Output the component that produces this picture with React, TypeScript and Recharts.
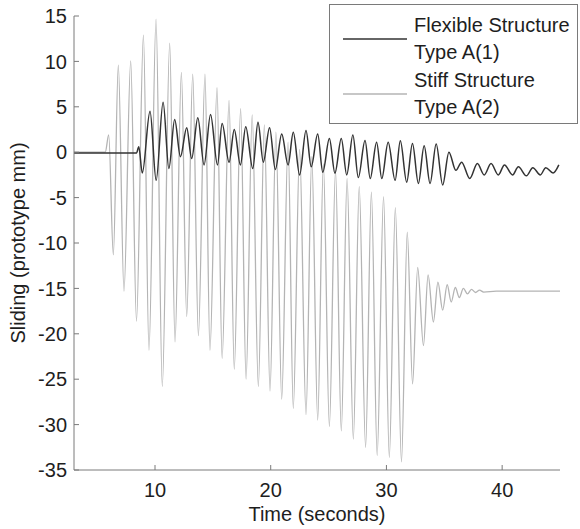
import React from 'react';
import { LineChart, Line, XAxis, YAxis, Legend } from 'recharts';

const stiffTime = [
  3, 5.7, 6.0, 6.4, 6.83, 7.32, 7.9, 8.4, 9.0, 9.48, 10.09, 10.63, 11.27, 11.73, 12.28,
  12.74, 13.26, 13.75, 14.32, 14.75, 15.36, 15.8, 16.4, 16.85, 17.4, 17.87, 18.4, 18.93,
  19.45, 19.94, 20.45, 20.95, 21.5, 21.95, 22.5, 23.05, 23.55, 24.06, 24.55, 25.07, 25.6,
  26.1, 26.6, 27.14, 27.65, 28.2, 28.7, 29.2, 29.75, 30.25, 30.77, 31.3, 31.8, 32.26, 32.7,
  33.2, 33.6, 34.06, 34.45, 34.86, 35.25, 35.6, 35.95, 36.3, 36.65, 37.0, 37.35, 37.7,
  38.05, 38.4, 39.5, 45,
];
const stiffValue = [
  0, 0, 1.9, -11.3, 9.6, -15.3, 10.05, -18.6, 12.9, -21.8, 14.65, -25.8, 12.0, -20.9, 8.8,
  -18.1, 8.6, -20.2, 8.6, -21.8, 7.1, -22.7, 5.7, -23.9, 4.8, -25.0, 4.1, -25.8,
  3.0, -26.3, 2.2, -27.2, 1.1, -28.2, 0.3, -28.9, -0.5, -29.5, -1.3, -30.2, -2.0,
  -30.7, -2.9, -31.6, -3.8, -32.5, -4.4, -33.4, -4.9, -33.6, -6.1, -34.1, -8.8, -25.5, -12.7,
  -21.3, -13.5, -18.7, -14.3, -17.4, -14.6, -16.5, -14.9, -16.0, -15.0, -15.6, -15.1, -15.45,
  -15.2, -15.4, -15.3, -15.3,
];

const flexTime = [
  3, 8.4, 8.6, 8.9, 9.57, 10.1, 10.7, 11.2, 11.7, 12.2, 12.74, 13.17, 13.7, 14.24, 14.8,
  15.4, 15.8, 16.4, 16.85, 17.38, 17.84, 18.45, 18.9, 19.36, 19.9, 20.4, 20.95, 21.5, 21.95,
  22.5, 23.05, 23.5, 24.06, 24.5, 25.07, 25.55, 26.1, 26.57, 27.1, 27.57, 28.15, 28.6, 29.15,
  29.6, 30.15, 30.75, 31.2, 31.75, 32.25, 32.76, 33.26, 33.77, 34.3, 34.86, 35.4, 36.0, 36.5,
  37.2, 37.86, 38.45, 39.04, 39.67, 40.2, 40.9, 41.4, 42.1, 42.65, 43.3, 43.77, 44.4, 44.9,
];
const flexValue = [
  -0.1, -0.1, 0.6, -2.3, 4.5, -3.1, 5.5, -1.8, 3.6, -0.5, 2.7, -0.7, 3.8, -1.4, 4.15,
  -1.4, 3.15, -1.1, 2.5, -1.4, 2.8, -1.8, 3.3, -1.1, 2.7, -1.9, 2.0, -1.4, 2.2,
  -2.5, 2.4, -1.6, 2.0, -2.2, 1.5, -2.3, 1.5, -2.5, 1.9, -2.8, 1.3, -2.9, 1.1,
  -2.9, 1.1, -3.1, 1.25, -3.3, 0.95, -3.45, 0.7, -3.45, 0.9, -3.6, 0.0, -2.0, -1.1,
  -2.9, -1.25, -2.5, -1.25, -2.5, -1.4, -2.5, -1.6, -2.6, -1.7, -2.5, -1.7, -2.3, -1.4,
];

const xTicks = [10, 20, 30, 40];
const yTicks = [-35, -30, -25, -20, -15, -10, -5, 0, 5, 10, 15];

const flexName = 'Flexible Structure\nType A(1)';
const stiffName = 'Stiff Structure\nType A(2)';

const stiffData = stiffTime.map((t, i) => ({ t, v: stiffValue[i] }));
const flexData = flexTime.map((t, i) => ({ t, v: flexValue[i] }));

const FONT = '"Liberation Sans", Arial, sans-serif';
const AXIS = '#7a7a7a';
const TEXT = '#1e1e1e';

const LegendBox = ({ payload }: any) => {
  const items = [...(payload || [])].sort((a: any, b: any) => (a.value > b.value ? 1 : -1));
  return (
    <div
      style={{
        border: `1px solid ${AXIS}`,
        background: '#fff',
        padding: '6px 0 3px 0',
        fontFamily: FONT,
        fontSize: 20,
        color: TEXT,
        boxSizing: 'border-box',
        height: 120,
      }}
    >
      {items.map((it: any) => (
        <div key={it.value} style={{ display: 'flex', alignItems: 'center', height: 55 }}>
          <svg width={84} height={10} style={{ flex: 'none' }}>
            <line x1={13} x2={77} y1={5} y2={5} stroke={it.color} strokeWidth={1.3} />
          </svg>
          <div style={{ lineHeight: '27px' }}>
            {String(it.value).split('\n').map((s) => (
              <div key={s}>{s}</div>
            ))}
          </div>
        </div>
      ))}
    </div>
  );
};

const YLabel = ({ viewBox }: any) => {
  const cy = viewBox.y + viewBox.height / 2;
  return (
    <text
      x={25}
      y={cy}
      transform={`rotate(-90, 25, ${cy})`}
      textAnchor="middle"
      fontFamily={FONT}
      fontSize={20}
      fill={TEXT}
    >
      Sliding (prototype mm)
    </text>
  );
};

export default function App() {
  return (
    <div style={{ position: 'absolute', left: 0, top: 0, background: '#fff' }}>
      <LineChart width={580} height={529} margin={{ top: 16, right: 20, left: 0, bottom: 0 }}>
        <XAxis
          type="number"
          dataKey="t"
          domain={[3, 45]}
          ticks={xTicks}
          allowDataOverflow
          height={59}
          stroke={AXIS}
          tickSize={-5}
          tickMargin={18}
          tick={{ fill: TEXT, fontSize: 20, fontFamily: FONT }}
          label={{
            value: 'Time (seconds)',
            position: 'insideBottom',
            offset: 8,
            fill: TEXT,
            fontSize: 20,
            fontFamily: FONT,
          }}
        />
        <YAxis
          type="number"
          domain={[-35, 15]}
          ticks={yTicks}
          allowDataOverflow
          width={74}
          stroke={AXIS}
          tickSize={-5}
          tickMargin={12}
          tick={{ fill: TEXT, fontSize: 20, fontFamily: FONT }}
          label={{ content: <YLabel /> }}
        />
        <Legend
          layout="horizontal"
          verticalAlign="middle"
          align="center"
          content={<LegendBox />}
          wrapperStyle={{ left: 329, top: 4, width: 249 }}
        />
        <Line
          data={stiffData}
          dataKey="v"
          name={stiffName}
          type="monotone"
          stroke="#b4b4b4"
          strokeWidth={1.3}
          dot={false}
          isAnimationActive={false}
        />
        <Line
          data={flexData}
          dataKey="v"
          name={flexName}
          type="monotone"
          stroke="#333333"
          strokeWidth={1.5}
          dot={false}
          isAnimationActive={false}
        />
      </LineChart>
    </div>
  );
}
